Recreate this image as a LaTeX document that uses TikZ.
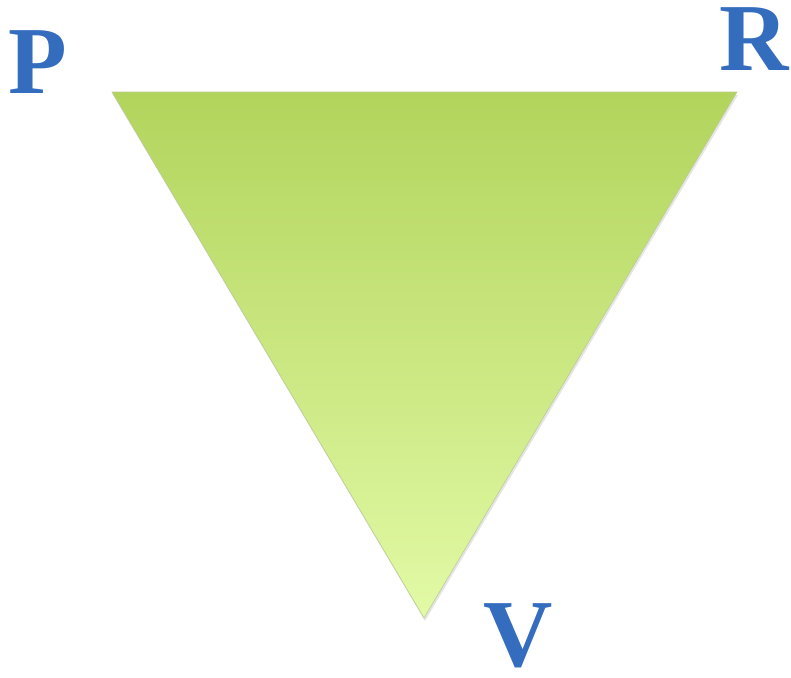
\documentclass[tikz,border=0pt]{standalone}
\usepackage{fontspec}
\setmainfont{Liberation Serif}
\definecolor{letterblue}{RGB}{52,108,190}
\definecolor{greentop}{RGB}{178,212,92}
\definecolor{greenbot}{RGB}{226,250,166}
\tikzset{
    corner/.style={inner sep=0pt, text=letterblue, font=\fontsize{96}{96}\selectfont\bfseries},
}
\begin{document}
\begin{tikzpicture}[x=1pt, y=-1pt]
    \useasboundingbox (0,0) rectangle (791,677);
    % triangle
    \coordinate (tl) at (112,92);
    \coordinate (tr) at (737,92);
    \coordinate (bt) at (424,618);
    \fill[gray!40, opacity=.5] ([shift={(1,3)}]tl) -- ([shift={(1,3)}]tr) -- ([shift={(1,3)}]bt) -- cycle;
    \shade[top color=greentop, bottom color=greenbot, draw=greentop!80!black!60, line width=.6pt] (tl) -- (tr) -- (bt) -- cycle;
    % labels
    \node[corner] (P) at (38,62) {P};
    \node[corner] (R) at (754,39) {R};
    \node[corner] (V) at (518,636) {V};
\end{tikzpicture}
\end{document}
